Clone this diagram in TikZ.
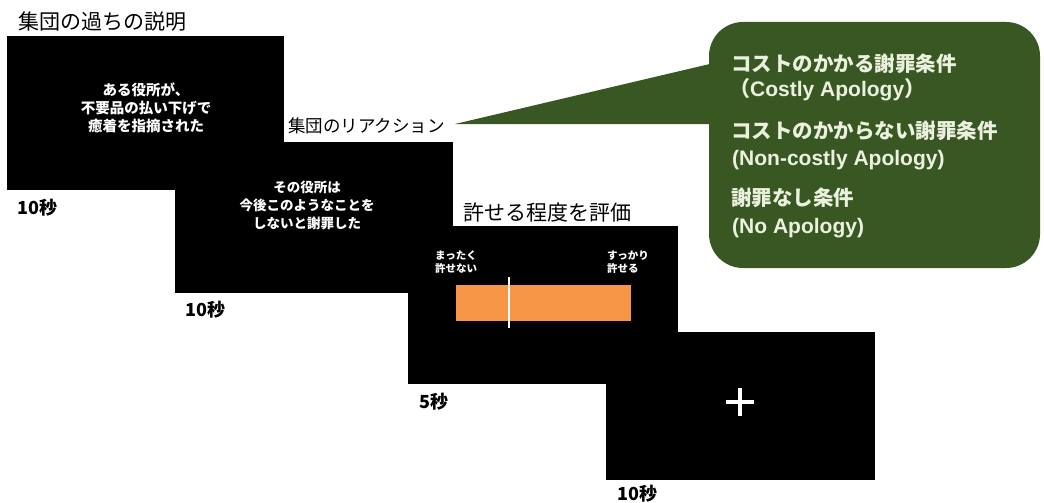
\documentclass[tikz,border=0pt]{standalone}
\usepackage{fontspec}
\setmainfont{Liberation Sans}
\newfontfamily\jp{Noto Sans CJK JP}
\definecolor{calloutgreen}{HTML}{385723}
\definecolor{callouttext}{HTML}{EBF1DE}
\definecolor{barorange}{HTML}{F79646}
\newcommand{\fs}[2]{\fontsize{#1}{#2}\selectfont}
\begin{document}
\begin{tikzpicture}[x=1pt,y=-1pt,
  screen/.style={fill=black, anchor=north west, inner sep=0pt},
  title/.style={anchor=west, inner sep=0pt, text=black},
  inner/.style={align=center, inner sep=0pt, text=white},
  secs/.style={anchor=west, inner sep=0pt, text=black, font=\jp\bfseries\fs{18}{18}},
  scalelab/.style={anchor=west, align=left, inner sep=0pt, text=white, font=\jp\bfseries\fs{10.5}{12.5}},
  condtext/.style={anchor=west, inner sep=0pt, text=callouttext},
]
\useasboundingbox[fill=white] (0,0) rectangle (1044,503);

% screens
\node[screen, minimum width=277pt, minimum height=154pt] (s1) at (7,36) {};
\node[screen, minimum width=278pt, minimum height=151pt] (s2) at (175,142) {};
\node[screen, minimum width=270pt, minimum height=158pt] (s3) at (408,226) {};
\node[screen, minimum width=269pt, minimum height=148pt] (s4) at (606,332) {};

% titles
\node[title, font=\jp\fs{21}{21}] (t1) at (18,22) {集団の過ちの説明};
\node[title, font=\jp\fs{17.5}{17.5}] (t2) at (288,125.5) {集団のリアクション};
\node[title, font=\jp\fs{21}{21}] (t3) at (463,212.5) {許せる程度を評価};

% screen texts
\node[inner, font=\jp\bfseries\fs{14.5}{18}] (x1) at (146,108)
  {ある役所が、\\不要品の払い下げで\\癒着を指摘された};
\node[inner, font=\jp\bfseries\fs{13.5}{18}] (x2) at (307,205)
  {その役所は\\今後このようなことを\\しないと謝罪した};

% durations
\node[secs] (d1) at (17,207.5) {10秒};
\node[secs] (d2) at (185,310) {10秒};
\node[secs] (d3) at (419,402) {5秒};
\node[secs] (d4) at (617,494) {10秒};

% rating scale
\node[inner sep=0pt, fill=barorange, minimum width=175pt, minimum height=36pt] (bar) at (543.5,303) {};
\coordinate (mtop) at (509,277);
\coordinate (mbot) at (509,328);
\draw[white, line width=2.5pt] (mtop) -- (mbot);
\node[scalelab] (l1) at (435,262) {まったく\\許せない};
\node[scalelab] (l2) at (607,262) {すっかり\\許せる};

% fixation cross
\coordinate (cc) at (740,402);
\draw[white, line width=4pt] ([xshift=-14pt]cc) -- ([xshift=14pt]cc);
\draw[white, line width=4pt] ([yshift=-14pt]cc) -- ([yshift=14pt]cc);

% callout
\coordinate (tip) at (455,124);
\fill[calloutgreen] (tip) -- (714,63) -- (714,124) -- cycle;
\node[fill=calloutgreen, rounded corners=34pt, minimum width=331pt, minimum height=246pt, inner sep=0pt] (cb) at (874.5,145) {};
\node[condtext, font=\jp\bfseries\fs{20.5}{20.5}] (c1) at (731,64) {コストのかかる謝罪条件};
\node[condtext, font=\bfseries\fs{21}{21}] (c2) at (729,90) {{\jp （}Costly Apology{\jp ）}};
\node[condtext, font=\jp\bfseries\fs{20.5}{20.5}] (c3) at (731,131) {コストのかからない謝罪条件};
\node[condtext, font=\bfseries\fs{21}{21}] (c4) at (732,160) {(Non-costly Apology)};
\node[condtext, font=\jp\bfseries\fs{20.5}{20.5}] (c5) at (731,198) {謝罪なし条件};
\node[condtext, font=\bfseries\fs{21}{21}] (c6) at (732,228) {(No Apology)};
\end{tikzpicture}
\end{document}
